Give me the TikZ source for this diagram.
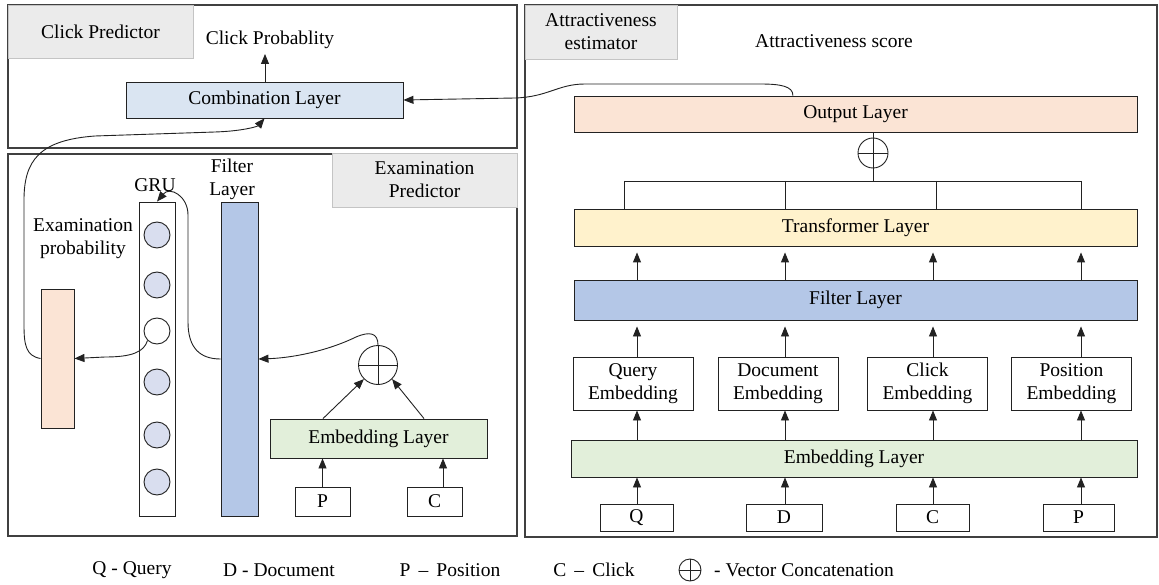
\documentclass[tikz,border=0pt]{standalone}
\usepackage{fontspec}
\setmainfont{Liberation Serif}
\usetikzlibrary{arrows.meta,calc}
\definecolor{cblue}{HTML}{DAE5F2}
\definecolor{corange}{HTML}{FBE4D5}
\definecolor{ccirc}{HTML}{D9DEEF}
\definecolor{cfilter}{HTML}{B4C7E7}
\definecolor{cemb}{HTML}{E2EFDA}
\definecolor{ctrans}{HTML}{FFF2CC}
\definecolor{clabel}{HTML}{EBEBEB}
\definecolor{clabelb}{HTML}{C4C4C4}
\definecolor{cpanel}{HTML}{404040}
\definecolor{cline}{HTML}{222222}
\tikzset{
  panel/.style={draw=cpanel,line width=1.2pt,inner sep=0pt},
  plabel/.style={draw=clabelb,fill=clabel,line width=0.8pt,align=center,inner sep=0pt},
  box/.style={draw=cline,line width=0.9pt,inner sep=0pt,align=center},
  gcirc/.style={circle,draw=cline,line width=0.9pt,minimum size=26pt,inner sep=0pt,fill=ccirc},
  oplus/.style={circle,draw=cline,line width=0.9pt,inner sep=0pt,
    path picture={\draw[line width=0.9pt] (path picture bounding box.north) -- (path picture bounding box.south)
      (path picture bounding box.west) -- (path picture bounding box.east);}},
  arr/.style={draw=cline,line width=0.9pt,-{Triangle[length=10pt,width=8pt]}},
  ln/.style={draw=cline,line width=0.9pt},
  txt/.style={inner sep=0pt,align=center}
}
\begin{document}
\begin{tikzpicture}[x=1pt,y=-1pt,font=\fontsize{19.5}{23}\selectfont]
\useasboundingbox (0,0) rectangle (1159,585);
\fill[white] (0,0) rectangle (1159,585);
% panels
\node[panel,minimum width=509pt,minimum height=143pt] (cpan) at (262.5,76.5) {};
\node[panel,minimum width=509pt,minimum height=382pt] (epan) at (262.5,345) {};
\node[panel,minimum width=632pt,minimum height=532pt] (apan) at (841,271) {};
\node[plabel,minimum width=185pt,minimum height=53pt] (cplab) at (100.5,31.5) {Click Predictor};
\node[plabel,minimum width=185pt,minimum height=54pt] (eplab) at (424.5,180) {Examination\\Predictor};
\node[plabel,minimum width=152pt,minimum height=54pt] (aplab) at (601,32) {Attractiveness\\estimator};
% click predictor
\node[box,fill=cblue,minimum width=277pt,minimum height=36pt] (comb) at (264.5,100) {Combination Layer};
\node[txt] (cprob) at (270,40) {Click Probablity};
\draw[arr] (comb.north -| 265,0) -- (265,54);
% examination predictor
\node[txt] (gru) at (155,185) {GRU};
\node[txt] (flab) at (232,179) {Filter\\Layer};
\node[txt] (eprob) at (83,239) {Examination\\probability};
\node[box,minimum width=36pt,minimum height=314pt] (grucol) at (157,359) {};
\node[gcirc] (g1) at (157,235) {};
\node[gcirc] (g2) at (157,285) {};
\node[gcirc,fill=white] (g3) at (157,331) {};
\node[gcirc] (g4) at (157,382) {};
\node[gcirc] (g5) at (157,435) {};
\node[gcirc] (g6) at (157,482) {};
\node[box,fill=cfilter,minimum width=37pt,minimum height=314pt] (fbar) at (239.5,359) {};
\node[box,fill=corange,minimum width=33pt,minimum height=139pt] (obar) at (57.5,358.5) {};
\node[oplus,minimum size=39pt] (op1) at (378,365) {};
\node[box,fill=cemb,minimum width=217pt,minimum height=39pt] (eemb) at (378.5,438.5) {Embedding Layer};
\node[box,minimum width=55pt,minimum height=29pt] (ep) at (322.5,501.5) {P};
\node[box,minimum width=55pt,minimum height=29pt] (ec) at (434.5,501.5) {C};
\draw[arr] (ep.north) -- (ep.north |- eemb.south);
\draw[arr] (ec.north -| 443,0) -- (443,0 |- eemb.south);
\draw[arr] (eemb.north -| 323,0) -- (op1.225);
\draw[arr] (eemb.north -| 424,0) -- (op1.315);
\draw[arr] (op1.north) .. controls (378,333) and (370,331) .. (356,337)
   .. controls (325,352) and (290,358) .. (fbar.east);
\draw[arr] (fbar.west) .. controls (200,359) and (188,348) .. (188,322) -- (188,215)
   .. controls (188,196) and (170,186) .. (grucol.north);
\draw[arr] (g3.225) .. controls (144,352) and (132,357) .. (105,357) -- (obar.east);
\draw[arr] (obar.west) .. controls (26,356) and (24,345) .. (24,325) -- (24,200)
   .. controls (24,160) and (40,140) .. (95,136) -- (215,132)
   .. controls (245,131) and (258,126) .. (comb.south);
% attractiveness estimator
\node[txt] (ascore) at (834,41) {Attractiveness score};
\node[box,fill=corange,minimum width=563pt,minimum height=36pt] (outl) at (855.5,114) {Output Layer};
\node[oplus,minimum size=30pt] (op2) at (873,153) {};
\node[box,fill=ctrans,minimum width=563pt,minimum height=37pt] (trans) at (855.5,227.5) {Transformer Layer};
\node[box,fill=cfilter,minimum width=563pt,minimum height=40pt] (filt) at (855.5,300) {Filter Layer};
\node[box,minimum width=120pt,minimum height=53pt] (qe) at (633,383.5) {Query\\Embedding};
\node[box,minimum width=120pt,minimum height=53pt] (de) at (778,383.5) {Document\\Embedding};
\node[box,minimum width=120pt,minimum height=53pt] (ce) at (927.5,383.5) {Click\\Embedding};
\node[box,minimum width=120pt,minimum height=53pt] (pe) at (1071.5,383.5) {Position\\Embedding};
\node[box,fill=cemb,minimum width=566pt,minimum height=37pt] (aemb) at (854,458.5) {Embedding Layer};
\node[box,minimum width=73pt,minimum height=27pt] (iq) at (636.5,517.5) {Q};
\node[box,minimum width=76pt,minimum height=27pt] (id) at (784,517.5) {D};
\node[box,minimum width=73pt,minimum height=27pt] (ic) at (932.5,517.5) {C};
\node[box,minimum width=71pt,minimum height=27pt] (ip) at (1078.5,517.5) {P};
\draw[ln] (outl.south -| op2) -- (op2.north);
\coordinate (barL) at (624,181);
\coordinate (barR) at (1081,181);
\draw[ln] (op2.south) -- (op2 |- barL);
\draw[ln] (barL) -- (barR);
\foreach \x in {624,785,936,1081} \draw[ln] (\x,181) -- (\x,0 |- trans.north);
\foreach \n/\x in {iq/637,id/785,ic/933,ip/1081}{
  \draw[arr] (\n.north -| \x,0) -- (\x,0 |- aemb.south);
}
\foreach \n/\x in {qe/637,de/785,ce/933,pe/1081}{
  \draw[arr] (aemb.north -| \x,0) -- (\x,0 |- \n.south);
  \draw[arr,shorten >=6pt] (\n.north -| \x,0) -- (\x,0 |- filt.south);
  \draw[arr,shorten >=6pt] (filt.north -| \x,0) -- (\x,0 |- trans.south);
}
\draw[arr] ($(outl.north west)!0.389!(outl.north east)$) .. controls (793,86) and (780,84) .. (760,84)
  -- (585,84) .. controls (558,84) and (548,97) .. (515,98) -- (comb.east);
% legend
\node[txt] (lq) at (132,570) {Q - Query};
\node[txt] (ld) at (279,570) {D - Document};
\node[txt] (lp) at (450,570) {P\, – \,Position};
\node[txt] (lc) at (594,570) {C\, – \,Click};
\node[oplus,minimum size=22pt] (lo) at (690,570) {};
\node[txt,anchor=west] (lv) at (714,570) {- Vector Concatenation};
\end{tikzpicture}
\end{document}
